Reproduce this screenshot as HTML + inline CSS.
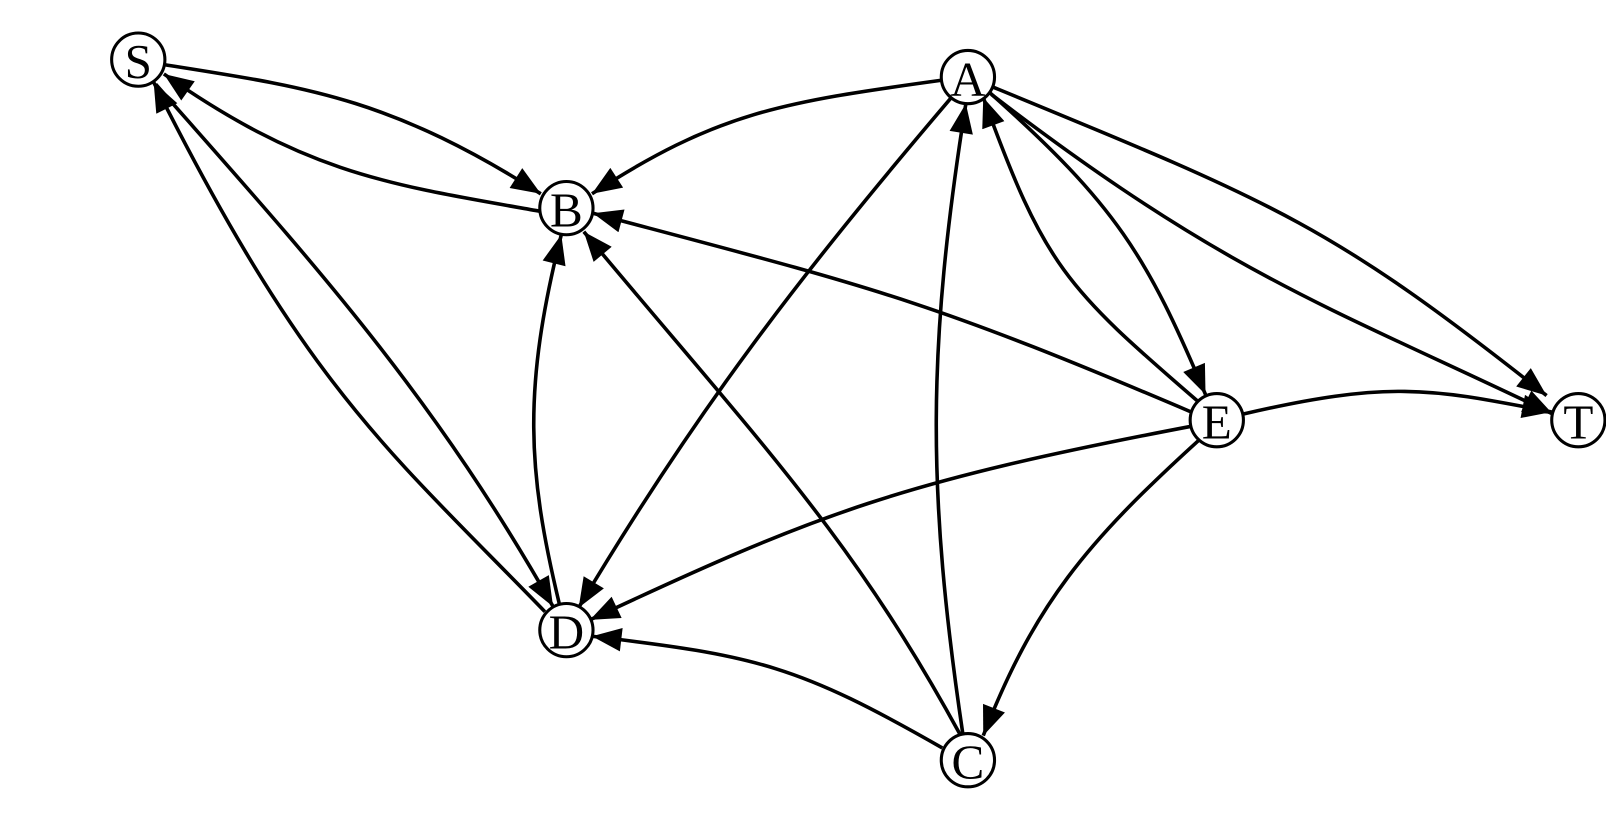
<!DOCTYPE html>
<html><head><meta charset="utf-8"><style>
html,body{margin:0;padding:0;background:#fff;}
svg{display:block;}
text{font-family:"Liberation Serif",serif;font-size:48px;text-anchor:middle;dominant-baseline:central;}
</style></head><body>
<svg width="1606" height="827" viewBox="0 0 1568 807" xmlns="http://www.w3.org/2000/svg">
<defs>
<marker id="a" viewBox="0 0 10 8" refX="10" refY="4" markerWidth="30" markerHeight="23" markerUnits="userSpaceOnUse" orient="auto">
<path d="M0,0 L10,4 L0,8 z" fill="#000"/>
</marker>
</defs>
<g fill="none" stroke="#000" stroke-width="3.5" marker-end="url(#a)">
<path d="M161,63 C300,85 380,95 528,189"/>
<path d="M527,206 C380,180 300,170 160,72"/>
<path d="M152,82 C300,250 420,380 540,592"/>
<path d="M532,597 C380,440 300,380 150,80"/>
<path d="M546,589 C515,460 510,380 548,229"/>
<path d="M920,78 C760,100 700,110 578,189"/>
<path d="M928,96 C780,270 680,400 565,593"/>
<path d="M1163,402 C900,290 850,280 579,208"/>
<path d="M938,718 C830,520 740,430 570,226"/>
<path d="M940,716 C905,480 905,340 943,101"/>
<path d="M1170,392 C1040,280 1020,260 960,95"/>
<path d="M966,90 C1090,200 1120,250 1177,385"/>
<path d="M970,85 C1250,200 1300,220 1510,386"/>
<path d="M968,92 C1200,270 1300,300 1516,404"/>
<path d="M1214,404 C1360,370 1400,380 1515,402"/>
<path d="M1163,416 C880,470 800,500 576,605"/>
<path d="M1170,430 C1060,530 1010,590 960,718"/>
<path d="M920,730 C780,650 740,640 578,621"/>
</g>
<g fill="#fff" stroke="#000" stroke-width="3">
<circle cx="135" cy="58" r="26"/>
<circle cx="945" cy="75" r="26"/>
<circle cx="553" cy="203" r="26"/>
<circle cx="1188" cy="410" r="26"/>
<circle cx="1541" cy="410" r="26"/>
<circle cx="553" cy="615" r="26"/>
<circle cx="945" cy="742" r="26"/>
</g>
<g>
<text x="135" y="60">S</text>
<text x="945" y="77">A</text>
<text x="553" y="205">B</text>
<text x="1188" y="412">E</text>
<text x="1541" y="412">T</text>
<text x="553" y="617">D</text>
<text x="945" y="744">C</text>
</g>
</svg>
</body></html>
